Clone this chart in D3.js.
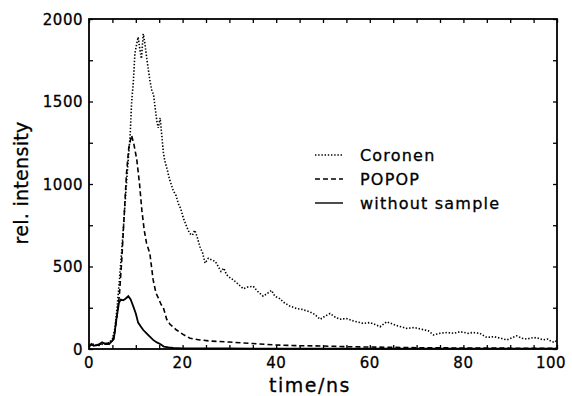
<!DOCTYPE html>
<html>
<head>
<meta charset="utf-8">
<script src="https://cdn.jsdelivr.net/npm/d3@7"></script>
<style>
  body { margin: 0; background: #fff; }
  text { font-family: "DejaVu Sans", sans-serif; fill: #000; stroke: #000; stroke-width: 0.3px; }
</style>
</head>
<body>
<svg id="chart" width="572" height="396"></svg>
<script>
// tick labels
var xTickLabels = [0, 20, 40, 60, 80, 100];
var yTickLabels = [0, 500, 1000, 1500, 2000];

// series (time in ns, relative intensity)
var coronenTime = [0, 1, 2, 3, 4, 5, 5.5, 6, 6.5, 7, 7.5, 8, 8.4, 8.8, 9.1, 9.5, 9.8, 10.2, 10.5, 10.9, 11.2, 11.6, 11.9, 12.3, 12.7, 13, 13.4, 13.8, 14.1, 14.5, 14.8, 15.2, 15.5, 15.9, 16.2, 16.6, 17.2, 18, 18.6, 19.1, 19.6, 20.2, 20.9, 21.5, 22.1, 22.6, 23.1, 23.7, 24.3, 24.8, 25.5, 26.2, 27, 27.6, 28.2, 28.8, 29.4, 30.2, 30.8, 31.6, 32.4, 33, 33.8, 35.1, 36, 37.2, 38, 39, 39.7, 40.8, 41.5, 42.9, 44.4, 45.5, 47.2, 48.2, 49.4, 50.5, 51.5, 52.5, 53.6, 55, 56.5, 58.6, 60, 61, 62.2, 63.6, 65, 66, 67.9, 69.5, 71, 72.5, 73.6, 75, 76.5, 78, 79.3, 81, 82, 83.5, 85, 86.5, 88, 89.3, 90.5, 91.4, 92.5, 93.5, 95, 96, 97, 98, 98.8, 99.5, 100];
var coronenValues = [20, 25, 20, 30, 30, 60, 120, 250, 420, 600, 800, 1000, 1150, 1300, 1490, 1630, 1790, 1850, 1890, 1810, 1760, 1910, 1860, 1770, 1690, 1630, 1570, 1540, 1470, 1380, 1340, 1400, 1310, 1190, 1140, 1100, 1030, 960, 930, 880, 850, 790, 740, 700, 690, 720, 680, 620, 580, 520, 550, 540, 530, 500, 470, 490, 450, 430, 420, 400, 380, 365, 375, 380, 350, 320, 335, 355, 320, 305, 285, 260, 245, 240, 225, 210, 180, 200, 215, 195, 180, 185, 170, 155, 160, 150, 135, 165, 150, 140, 125, 130, 120, 110, 85, 95, 100, 95, 105, 95, 100, 95, 70, 75, 65, 55, 70, 80, 65, 60, 70, 65, 55, 60, 45, 40, 55];

var popopTime = [0, 1, 2, 3, 4, 5, 5.5, 6, 6.5, 7, 7.5, 8, 8.5, 9.1, 9.6, 10.2, 10.8, 11.3, 11.8, 12.3, 13, 13.7, 14.3, 14.8, 15.4, 15.9, 16.6, 17.3, 18.7, 20, 21.6, 23.7, 26, 30, 35, 40, 45, 50, 55, 60, 65, 70, 80, 90, 100];
var popopValues = [20, 30, 25, 35, 35, 50, 100, 200, 330, 540, 800, 1060, 1220, 1295, 1240, 1150, 1000, 840, 720, 640, 580, 420, 340, 310, 270, 250, 180, 150, 115, 90, 65, 55, 48, 42, 33, 24, 20, 18, 14, 12, 10, 8, 6, 5, 5];

var withoutTime = [0, 0.5, 1, 2, 2.8, 3.5, 4.3, 4.8, 5.3, 5.9, 6.4, 6.8, 7.3, 7.8, 8.4, 8.9, 9.5, 10, 10.5, 11.1, 11.6, 12.3, 13, 13.7, 14.5, 15.2, 16, 17, 18, 20, 25, 30, 40, 50, 60, 70, 80, 90, 100];
var withoutValues = [15, 30, 20, 25, 40, 30, 30, 45, 60, 190, 280, 300, 295, 305, 320, 300, 255, 215, 160, 135, 115, 95, 75, 55, 40, 30, 15, 10, 6, 4, 3, 3, 2, 2, 2, 2, 2, 2, 2];

var seriesNames = ["Coronen", "POPOP", "without sample"];
var seriesDash = ["1.4,1.8", "5,3", null];

var margin = {top: 19, right: 15, bottom: 47, left: 89},
  width = 572 - margin.left - margin.right,
  height = 396 - margin.top - margin.bottom;

const svg = d3.select("#chart")
  .append("g")
  .attr("transform", "translate(" + margin.left + "," + margin.top + ")");

var x = d3.scaleLinear().domain([0, 100]).range([0, width]);
var y = d3.scaleLinear().domain([0, 2000]).range([height, 0]);

// inward ticks on all four sides
function tickAxis(axis, g) {
  g.call(axis);
  g.select(".domain").remove();
  g.selectAll("line").attr("stroke", "#000").attr("stroke-width", 1.3);
  g.selectAll("text").remove();
}
var xTicks = d3.range(0, 101, 5), yTicks = d3.range(0, 2001, 250);
tickAxis(d3.axisBottom(x).tickValues(xTicks).tickSizeInner(-4).tickSizeOuter(0),
  svg.append("g").attr("transform", "translate(0," + height + ")"));
tickAxis(d3.axisTop(x).tickValues(xTicks).tickSizeInner(-4).tickSizeOuter(0), svg.append("g"));
tickAxis(d3.axisLeft(y).tickValues(yTicks).tickSizeInner(-4).tickSizeOuter(0), svg.append("g"));
tickAxis(d3.axisRight(y).tickValues(yTicks).tickSizeInner(-4).tickSizeOuter(0),
  svg.append("g").attr("transform", "translate(" + width + ",0)"));

// tick labels
svg.selectAll("text.xlab")
  .data(xTickLabels)
  .enter()
  .append("text")
    .attr("class", "xlab")
    .attr("x", d => x(d) - (d == 100 ? 6 : 0))
    .attr("y", height + 19)
    .attr("text-anchor", "middle")
    .attr("font-size", "15px")
    .attr("letter-spacing", "0.5px")
    .text(d => d);

svg.selectAll("text.ylab")
  .data(yTickLabels)
  .enter()
  .append("text")
    .attr("class", "ylab")
    .attr("x", -6)
    .attr("y", d => y(d) + 5.5)
    .attr("text-anchor", "end")
    .attr("font-size", "15px")
    .attr("letter-spacing", "0.5px")
    .text(d => d);

// axis titles
svg.append("text")
  .attr("x", width / 2 - 13)
  .attr("y", height + 43)
  .attr("text-anchor", "middle")
  .attr("font-size", "19px")
  .attr("letter-spacing", "1.5px")
  .text("time/ns");

svg.append("text")
  .attr("transform", "translate(" + (28 - margin.left) + "," + (183 - margin.top) + ") rotate(-90)")
  .attr("text-anchor", "middle")
  .attr("font-size", "19px")
  .attr("letter-spacing", "0.3px")
  .text("rel. intensity");

// curves
var line = d3.line()
  .x(d => x(d[0]))
  .y(d => y(d[1]));

var seriesData = [
  d3.zip(coronenTime, coronenValues),
  d3.zip(popopTime, popopValues),
  d3.zip(withoutTime, withoutValues)
];

svg.selectAll("path.curve")
  .data(seriesData)
  .enter()
  .append("path")
    .attr("class", "curve")
    .attr("d", line)
    .attr("fill", "none")
    .attr("stroke", "#000")
    .attr("stroke-width", (d, i) => i == 2 ? 1.8 : 1.6)
    .attr("stroke-dasharray", (d, i) => seriesDash[i]);

// frame
svg.append("rect")
  .attr("width", width)
  .attr("height", height)
  .attr("fill", "none")
  .attr("stroke", "#000")
  .attr("stroke-width", 1.8);

// legend
var legend = svg.selectAll("g.legend")
  .data(seriesNames)
  .enter()
  .append("g")
    .attr("class", "legend")
    .attr("transform", (d, i) => "translate(" + (315 - margin.left) + "," + (155 + i * 24 - margin.top) + ")");

legend.append("line")
  .attr("x1", 0)
  .attr("x2", 28)
  .attr("stroke", "#000")
  .attr("stroke-width", 1.4)
  .attr("stroke-dasharray", (d, i) => seriesDash[i]);

legend.append("text")
  .attr("x", 45)
  .attr("y", 6)
  .attr("font-size", "16px")
  .attr("letter-spacing", "1.2px")
  .text(d => d);
</script>
</body>
</html>
